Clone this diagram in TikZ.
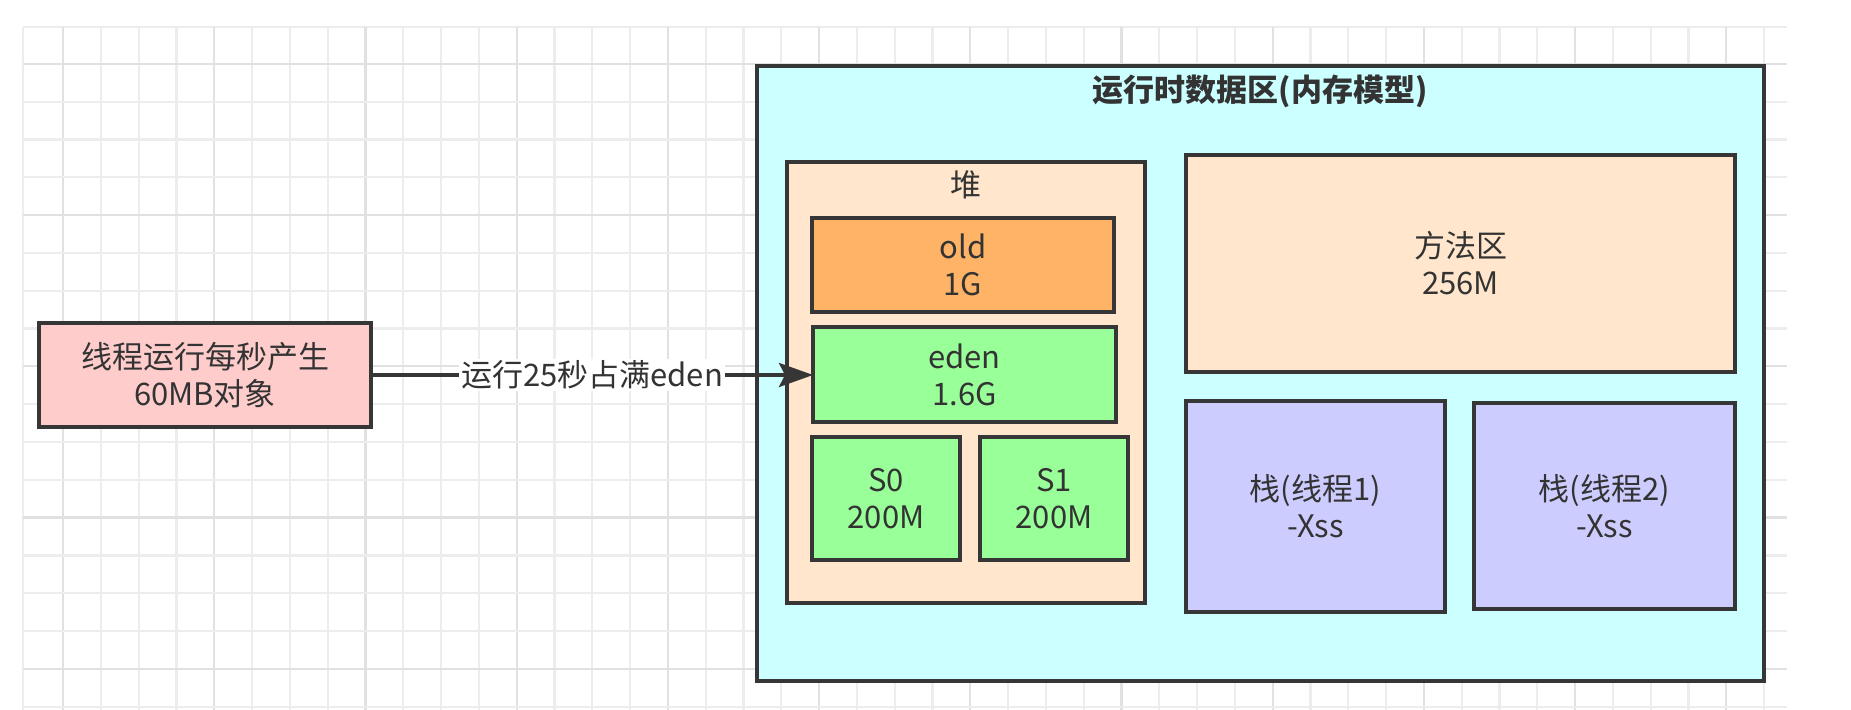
\documentclass[tikz,border=0pt]{standalone}
\usepackage{fontspec}
\setmainfont{Noto Sans CJK SC}
\usetikzlibrary{arrows.meta}
\definecolor{gridminor}{HTML}{EDEDED}
\definecolor{gridmajor}{HTML}{E1E1E1}
\definecolor{bordercol}{HTML}{363636}
\definecolor{textcol}{HTML}{333333}
\definecolor{pinkfill}{HTML}{FFCCCC}
\definecolor{peachfill}{HTML}{FFE6CC}
\definecolor{orangefill}{HTML}{FFB366}
\definecolor{greenfill}{HTML}{99FF99}
\definecolor{purplefill}{HTML}{CCCCFF}
\definecolor{cyanfill}{HTML}{CCFFFF}
\tikzset{
  box/.style={draw=bordercol, line width=2pt, inner sep=0pt, outer sep=0pt, align=center,
    text=textcol, font=\fontsize{15.5pt}{18.5pt}\selectfont},
  lbl/.style={inner sep=1pt, text=textcol, font=\fontsize{15.5pt}{18.5pt}\selectfont},
  gline/.style={draw=gridminor, line width=1.1pt},
  gmajor/.style={draw=gridmajor, line width=1.1pt},
}
\begin{document}
\begin{tikzpicture}[x=0.5pt, y=-0.5pt]
\useasboundingbox (0,0) rectangle (1851,710);
\fill[white] (0,0) rectangle (1851,710);
% grid
\draw[gline] (23,27) -- (23,710);
\draw[gline] (23,27) -- (1787,27);
\foreach \i in {0,...,45} {
  \pgfmathtruncatemacro{\m}{mod(\i,4)}
  \ifnum\m=0
    \draw[gmajor] ({63+37.8*\i},27) -- ({63+37.8*\i},710);
  \else
    \draw[gline] ({63+37.8*\i},27) -- ({63+37.8*\i},710);
  \fi
}
\foreach \j in {0,...,17} {
  \pgfmathtruncatemacro{\m}{mod(\j,4)}
  \ifnum\m=0
    \draw[gmajor] (23,{64+37.8*\j}) -- (1787,{64+37.8*\j});
  \else
    \draw[gline] (23,{64+37.8*\j}) -- (1787,{64+37.8*\j});
  \fi
}
% source node
\node[box, fill=pinkfill, minimum width=166pt, minimum height=52pt] (src) at (205,375) {线程运行每秒产生\\60MB对象};
% outer runtime data area
\node[box, fill=cyanfill, line width=2.4pt, minimum width=503.5pt, minimum height=307.5pt] (outer) at (1260.5,373.5) {};
\node[lbl, font=\fontsize{15.5pt}{18.5pt}\selectfont\bfseries] (title) at (1260,91) {运行时数据区(内存模型)};
% heap
\node[box, fill=peachfill, minimum width=179pt, minimum height=220.5pt] (heap) at (966,382.5) {};
\node[lbl] (heaplbl) at (966,185) {堆};
\node[box, fill=orangefill, minimum width=151pt, minimum height=47pt] (old) at (963,265) {old\\1G};
\node[box, fill=greenfill, minimum width=151.5pt, minimum height=47.5pt] (eden) at (964.5,374.5) {eden\\1.6G};
\node[box, fill=greenfill, minimum width=74pt, minimum height=61.5pt] (s0) at (886,498.5) {S0\\200M};
\node[box, fill=greenfill, minimum width=74pt, minimum height=61.5pt] (s1) at (1054,498.5) {S1\\200M};
% method area
\node[box, fill=peachfill, minimum width=274.5pt, minimum height=108.5pt] (method) at (1460.5,263.5) {方法区\\256M};
% stacks
\node[box, fill=purplefill, minimum width=129.5pt, minimum height=105.5pt] (stack1) at (1315.5,506.5) {栈(线程1)\\-Xss};
\node[box, fill=purplefill, minimum width=130.5pt, minimum height=103pt] (stack2) at (1604.5,506) {栈(线程2)\\-Xss};
% connector
\draw[draw=bordercol, line width=1.8pt, -{Stealth[length=17pt, width=12pt, inset=3pt]}] (src.east) -- (src.east -| eden.west)
  node[midway, fill=white, inner sep=1pt, text=textcol, font=\fontsize{15.5pt}{18.5pt}\selectfont] (edgelbl) {运行25秒占满eden};
\end{tikzpicture}
\end{document}
